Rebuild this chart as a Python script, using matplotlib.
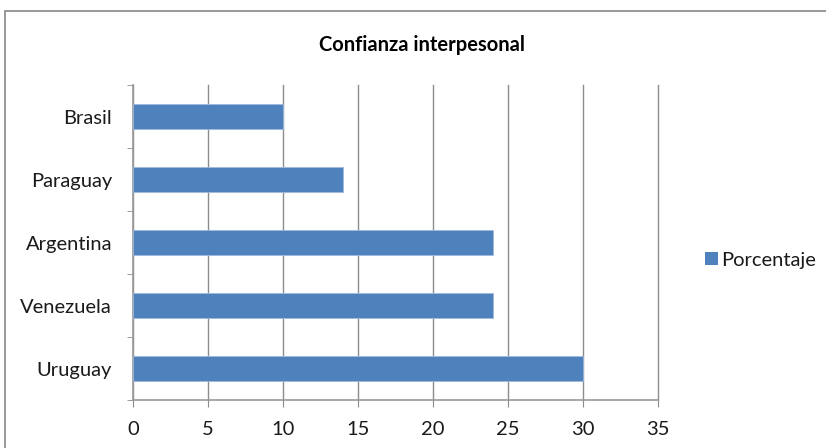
import matplotlib
matplotlib.use('Agg')
import matplotlib.pyplot as plt
from matplotlib.patches import Rectangle, Patch
import numpy as np

paises = ['Uruguay', 'Venezuela', 'Argentina', 'Paraguay', 'Brasil']
porcentaje = [30, 24, 24, 14, 10]
xticks = [0, 5, 10, 15, 20, 25, 30, 35]

plt.rcParams['font.family'] = ['Lato', 'DejaVu Sans']

fig = plt.figure(figsize=(8.26, 4.48), dpi=100)
ax = fig.add_axes([133/826, 1 - 400/448, 525/826, 315/448])

pos = np.arange(len(paises))
ax.barh(pos, porcentaje, height=0.4, color='#4F81BD', edgecolor='#9FB8DC', linewidth=0.6, zorder=3)

ax.set_xlim(0, 35)
ax.set_ylim(-0.5, len(paises) - 0.5)
ax.set_xticks(xticks)
ax.set_xticklabels([str(v) for v in xticks])
ax.set_yticks(pos)
ax.set_yticklabels(paises)
ax.set_yticks(np.arange(-0.5, len(paises), 1), minor=True)

ax.grid(axis='x', color='#8C8C8C', linewidth=1.0, zorder=0)
for gl in ax.get_xgridlines():
    gl.set_clip_on(False)
for s in ['top', 'right']:
    ax.spines[s].set_visible(False)
for s in ['left', 'bottom']:
    ax.spines[s].set_color('#9A9A9A')
    ax.spines[s].set_linewidth(1.2)

ax.tick_params(axis='x', direction='out', length=5, color='#8C8C8C', pad=10, labelsize=14.5, labelcolor='#1A1A1A')
ax.tick_params(axis='y', which='major', length=0, pad=15, labelsize=14.5, labelcolor='#1A1A1A')
ax.tick_params(axis='y', which='minor', direction='out', length=4.5, color='#8C8C8C')

fig.text(422/826, 1 - 45/448, 'Confianza interpesonal', ha='center', va='center',
         fontsize=14.5, fontweight='bold')

leg = fig.legend(handles=[Patch(facecolor='#4F81BD', label='Porcentaje')],
                 loc='center left', bbox_to_anchor=(695/826, 1 - 260/448),
                 frameon=False, fontsize=14.5, handlelength=0.65, handleheight=0.65,
                 handletextpad=0.15, borderpad=0, labelcolor='#1A1A1A')

# chart area border
fig.patches.append(Rectangle((5/826, -0.1), 1.0, 1 - 11/448 + 0.1, transform=fig.transFigure,
                             fill=False, edgecolor='#868686', linewidth=1.2))

fig.savefig('out.png', dpi=100)
